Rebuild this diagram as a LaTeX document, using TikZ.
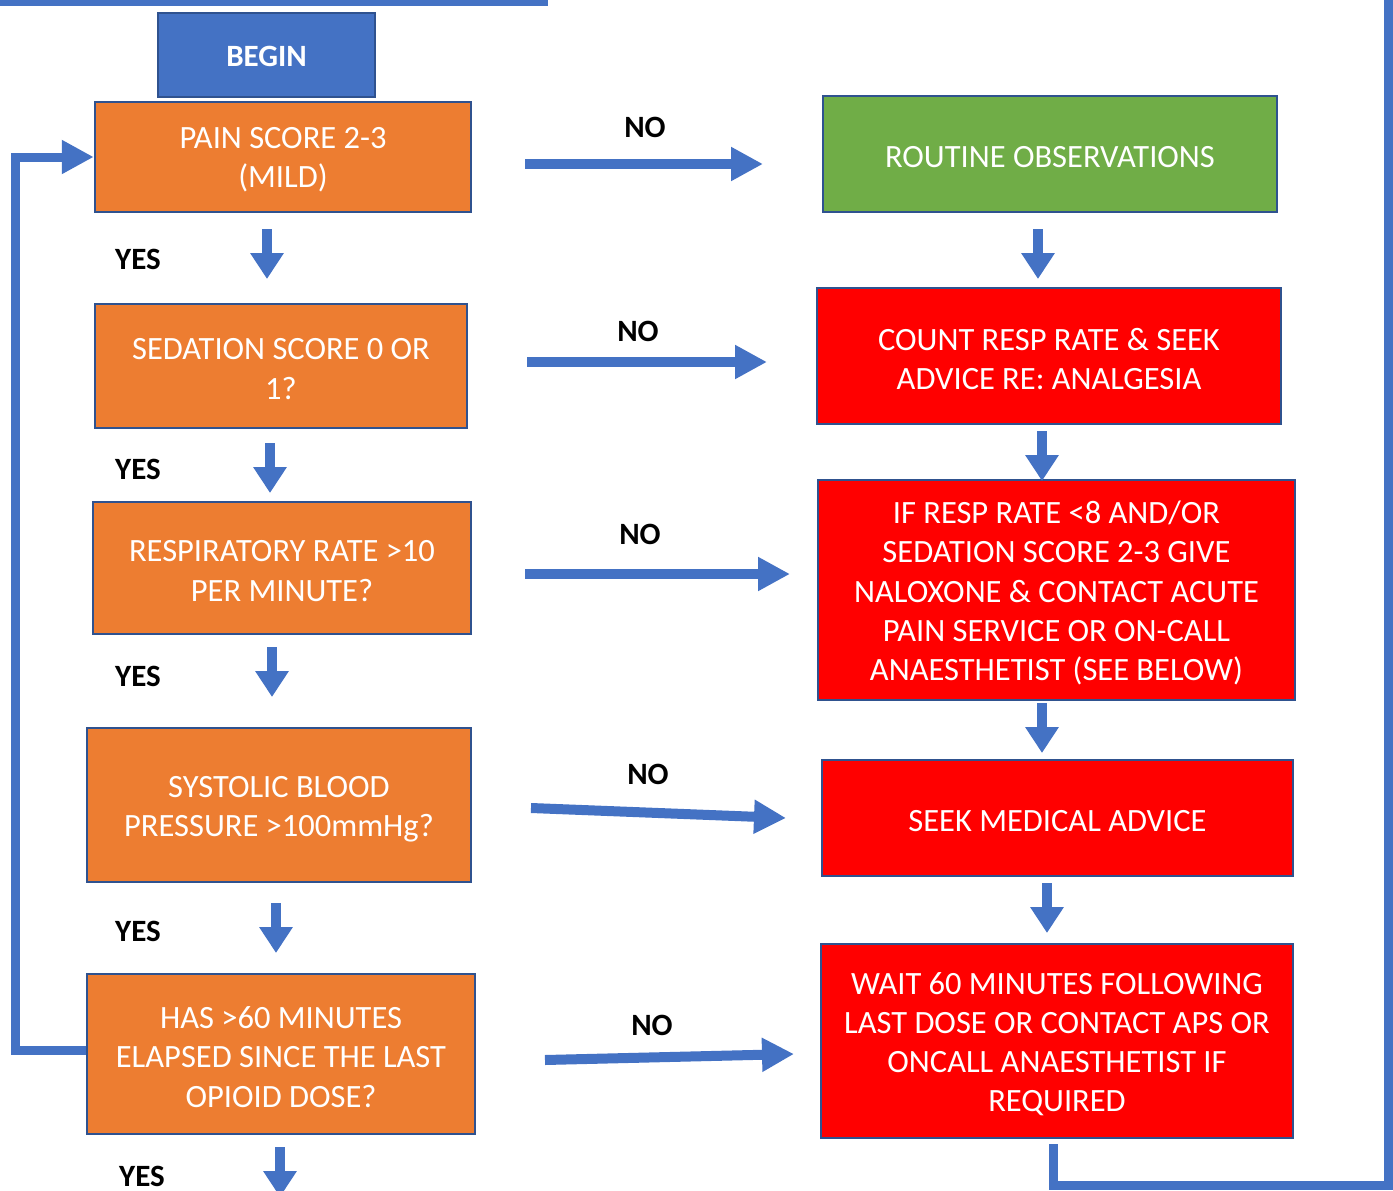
\documentclass[tikz,border=0pt]{standalone}
\usepackage{fontspec}
\setmainfont{Carlito}
\usetikzlibrary{arrows.meta}
\definecolor{cblue}{HTML}{4472C4}
\definecolor{cborder}{HTML}{2F528F}
\definecolor{corange}{HTML}{ED7D31}
\definecolor{cgreen}{HTML}{70AD47}
\definecolor{cred}{HTML}{FF0000}
\tikzset{
  box/.style={draw=cborder, line width=2.5pt, rectangle, inner sep=0pt},
  btxt/.style={inner sep=0pt, align=center, text=white, font=\fontsize{32.5}{39.2}\selectfont},
  lbl/.style={font=\fontsize{31}{36}\bfseries\selectfont, text=black, inner sep=0pt},
  harrow/.style={draw=cblue, line width=10pt, -{Triangle[width=32pt,length=32pt]}},
  varrow/.style={draw=cblue, line width=10pt, -{Triangle[width=32pt,length=26pt]}},
  loopline/.style={draw=cblue, line width=9pt},
}
\begin{document}
\begin{tikzpicture}[x=1pt,y=-1pt]
\useasboundingbox (0,0) rectangle (1393,1191);
% top line
\draw[loopline, line width=6pt] (0,3) -| (545,-10);
% left column
\node[box, fill=cblue, minimum width=217pt, minimum height=84pt] (begin) at (266.5,55) {};
\node[btxt, font=\fontsize{31}{39}\bfseries\selectfont] (tbegin) at ([yshift=-1pt]begin.center) {BEGIN};
\node[box, fill=corange, minimum width=376pt, minimum height=110pt] (pain) at (283,157) {};
\node[btxt] (tpain) at ([yshift=-3pt]pain.center) {PAIN SCORE 2-3\\(MILD)};
\node[box, fill=corange, minimum width=372pt, minimum height=124pt] (sed) at (281,366) {};
\node[btxt] (tsed) at ([yshift=-3pt]sed.center) {SEDATION SCORE 0 OR\\1?};
\node[box, fill=corange, minimum width=378pt, minimum height=132pt] (resp) at (282,568) {};
\node[btxt] (tresp) at ([yshift=-3pt]resp.center) {RESPIRATORY RATE >10\\PER MINUTE?};
\node[box, fill=corange, minimum width=384pt, minimum height=154pt] (sys) at (279,805) {};
\node[btxt] (tsys) at ([yshift=-4pt]sys.center) {SYSTOLIC BLOOD\\PRESSURE >100mmHg?};
\node[box, fill=corange, minimum width=388pt, minimum height=160pt] (has) at (281,1054) {};
\node[btxt] (thas) at ([yshift=-3pt]has.center) {HAS >60 MINUTES\\ELAPSED SINCE THE LAST\\OPIOID DOSE?};
% right column
\node[box, fill=cgreen, minimum width=454pt, minimum height=116pt] (routine) at (1050,154) {};
\node[btxt] (troutine) at ([yshift=-3pt]routine.center) {ROUTINE OBSERVATIONS};
\node[box, fill=cred, minimum width=464pt, minimum height=136pt] (count) at (1049,356) {};
\node[btxt] (tcount) at ([yshift=-3pt]count.center) {COUNT RESP RATE \& SEEK\\ADVICE RE: ANALGESIA};
\node[box, fill=cred, minimum width=477pt, minimum height=220pt] (ifresp) at (1056.5,590) {};
\node[btxt] (tifresp) at ([yshift=-3pt]ifresp.center) {IF RESP RATE <8 AND/OR\\SEDATION SCORE 2-3 GIVE\\NALOXONE \& CONTACT ACUTE\\PAIN SERVICE OR ON-CALL\\ANAESTHETIST (SEE BELOW)};
\node[box, fill=cred, minimum width=471pt, minimum height=116pt] (seek) at (1057.5,818) {};
\node[btxt] (tseek) at ([yshift=-3pt]seek.center) {SEEK MEDICAL ADVICE};
\node[box, fill=cred, minimum width=472pt, minimum height=194pt] (wait) at (1057,1041) {};
\node[btxt] (twait) at ([yshift=-3pt]wait.center) {WAIT 60 MINUTES FOLLOWING\\LAST DOSE OR CONTACT APS OR\\ONCALL ANAESTHETIST IF\\REQUIRED};
% labels
\node[lbl] (no1) at (645,127) {NO};
\node[lbl] (no2) at (638,331) {NO};
\node[lbl] (no3) at (640,534) {NO};
\node[lbl] (no4) at (648,774) {NO};
\node[lbl] (no5) at (652,1025) {NO};
\node[lbl] (yes1) at (138,259) {YES};
\node[lbl] (yes2) at (138,469) {YES};
\node[lbl] (yes3) at (138,676) {YES};
\node[lbl] (yes4) at (138,931) {YES};
\node[lbl] (yes5) at (142,1176) {YES};
% coordinates for free-floating arrows
\coordinate (h1s) at (525,164); \coordinate (h1e) at (763,164);
\coordinate (h2s) at (527,362); \coordinate (h2e) at (767,362);
\coordinate (h3s) at (525,574); \coordinate (h3e) at (790,574);
\coordinate (h4s) at (531,808); \coordinate (h4e) at (786,818);
\coordinate (h5s) at (545,1060); \coordinate (h5e) at (794,1054);
\draw[harrow] (h1s) -- (h1e);
\draw[harrow] (h2s) -- (h2e);
\draw[harrow] (h3s) -- (h3e);
\draw[harrow] (h4s) -- (h4e);
\draw[harrow] (h5s) -- (h5e);
% vertical arrows left
\coordinate (v1s) at (267,229); \coordinate (v1e) at (267,279);
\coordinate (v2s) at (270,443); \coordinate (v2e) at (270,493);
\coordinate (v3s) at (272,647); \coordinate (v3e) at (272,697);
\coordinate (v4s) at (276,903); \coordinate (v4e) at (276,953);
\coordinate (v5s) at (280,1147); \coordinate (v5e) at (280,1197);
\foreach \i in {1,...,5} {\draw[varrow] (v\i s) -- (v\i e);}
% vertical arrows right
\coordinate (r1s) at (1038,229); \coordinate (r1e) at (1038,279);
\coordinate (r2s) at (1042,431); \coordinate (r2e) at (1042,481);
\coordinate (r3s) at (1042,703); \coordinate (r3e) at (1042,753);
\coordinate (r4s) at (1047,883); \coordinate (r4e) at (1047,933);
\foreach \i in {1,...,4} {\draw[varrow] (r\i s) -- (r\i e);}
% left loop back to pain
\coordinate (lc1) at (15,1050);
\coordinate (lc2) at (15,157);
\draw[loopline] (has.west |- lc1) -- (lc1);
\draw[loopline, -{Triangle[width=32pt,length=32pt]}] ([yshift=-4.5pt]lc1) -- (lc2) -- (pain.west |- lc2);
% right loop from wait
\coordinate (rc0) at (1053,1144);
\coordinate (rc1) at (1053,1185);
\coordinate (rc2) at (1388,1185);
\coordinate (rc3) at (1388,-10);
\draw[loopline] (rc0) -- (rc1) -- (rc2) -- (rc3);
\end{tikzpicture}
\end{document}
